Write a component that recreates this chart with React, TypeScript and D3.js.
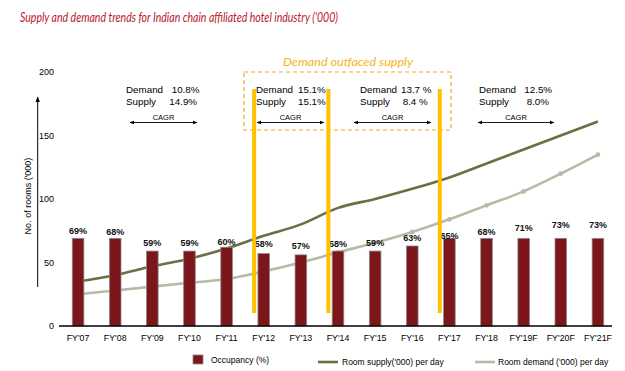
import React from "react";
import * as d3 from "d3";

// years on the x axis
const years = ["FY'07", "FY'08", "FY'09", "FY'10", "FY'11", "FY'12", "FY'13", "FY'14", "FY'15", "FY'16", "FY'17", "FY'18", "FY'19F", "FY'20F", "FY'21F"];
// occupancy labels (%) and the bar heights as drawn in the source
const occupancy = [69, 68, 59, 59, 60, 58, 57, 58, 59, 63, 65, 68, 71, 73, 73];
const barHeights = [69, 69, 59, 59, 62, 57, 56, 59, 59, 63, 69, 69, 69, 69, 69];
// room supply / demand ('000 per day)
const supply = [35, 40, 47, 53, 61, 71, 80, 93, 100, 108, 117, 128, 139, 150, 161];
const demand = [25, 28, 31, 34, 37, 43, 50, 58, 65.5, 74, 84, 95, 106, 120, 135];
const yTicks = [0, 50, 100, 150, 200];
// where the orange phase markers sit
const phaseStarts = ["FY'12", "FY'14", "FY'17"];

// CAGR text blocks
const cagrDemand = ["10.8%", "15.1%", "13.7 %", "12.5%"];
const cagrSupply = ["14.9%", "15.1%", "8.4 %", "8.0%"];

const W = 625;
const H = 371;

const font = "'Liberation Sans', Arial, sans-serif";

export default function App() {
  const x = d3.scalePoint<string>().domain(years).range([59.5, 616.5]).padding(0.5);
  const y = d3.scaleLinear().domain([0, 200]).range([326, 72]);
  const barW = 11.6;

  const line = d3
    .line<number>()
    .x((_, i) => x(years[i]) as number)
    .y((d) => y(d))
    .curve(d3.curveMonotoneX);

  // layout of the CAGR blocks: text left, value left (demand/supply), arrow start/end
  const blocks = [
    { tx: 126, dv: 171.7, sv: 169.3, a0: 130, a1: 197 },
    { tx: 256, dv: 298, sv: 298, a0: 257, a1: 324 },
    { tx: 360, dv: 401, sv: 402.7, a0: 354, a1: 431 },
    { tx: 479, dv: 524.3, sv: 526.7, a0: 478, a1: 554 },
  ];

  return (
    <svg width={W} height={H} style={{ position: "absolute", left: 0, top: 0, background: "#fff" }}>
      <defs>
        <marker id="ah" viewBox="0 0 10 10" refX="9" refY="5" markerWidth="5" markerHeight="5" orient="auto-start-reverse">
          <path d="M0,1 L10,5 L0,9 z" fill="#000" />
        </marker>
        <marker id="ahy" viewBox="0 0 10 10" refX="9" refY="5" markerWidth="6" markerHeight="6" orient="auto">
          <path d="M0,1 L10,5 L0,9 z" fill="#000" />
        </marker>
      </defs>

      {/* title */}
      <text x={20} y={22} fontFamily="Lato, sans-serif" fontStyle="italic" fontSize={12.5} fill="#b8192b" textLength={318} lengthAdjust="spacingAndGlyphs">
        Supply and demand trends for Indian chain affiliated hotel industry ('000)
      </text>

      {/* y axis ticks */}
      {yTicks.map((t) => (
        <text key={t} x={54} y={y(t)} dy="0.35em" textAnchor="end" fontFamily={font} fontSize={9} fill="#000">
          {t}
        </text>
      ))}
      {/* y axis arrow + title */}
      <line x1={37.7} y1={287} x2={37.7} y2={97} stroke="#000" strokeWidth={1} markerEnd="url(#ahy)" />
      <text transform="translate(31,196) rotate(-90)" textAnchor="middle" fontFamily={font} fontSize={9} fill="#000">
        No. of rooms ('000)
      </text>

      {/* lines */}
      <path d={line(supply) ?? ""} fill="none" stroke="#6b6f44" strokeWidth={2.6} />
      <path d={line(demand) ?? ""} fill="none" stroke="#b8baa6" strokeWidth={2.6} />
      {demand.map((d, i) => (
        <circle key={i} cx={x(years[i])} cy={y(d)} r={2.4} fill="#b8baa6" />
      ))}

      {/* bars */}
      {barHeights.map((v, i) => (
        <rect
          key={years[i]}
          x={(x(years[i]) as number) - barW / 2}
          y={y(v)}
          width={barW}
          height={y(0) - y(v)}
          fill="#7d161a"
          stroke="#8a8a8a"
          strokeWidth={0.8}
        />
      ))}
      {occupancy.map((v, i) => (
        <text key={years[i]} x={x(years[i])} y={y(v) - 8} dy="0.35em" textAnchor="middle" fontFamily={font} fontSize={9} fontWeight="bold" fill="#111">
          {v}%
        </text>
      ))}

      {/* x axis */}
      <line x1={59} x2={612} y1={326} y2={326} stroke="#000" strokeWidth={1.3} />
      {years.map((yr) => (
        <text key={yr} x={x(yr)} y={338} dy="0.35em" textAnchor="middle" fontFamily={font} fontSize={8.8} fill="#000">
          {yr}
        </text>
      ))}

      {/* demand outfaced supply box */}
      <rect x={244} y={72} width={207} height={58} fill="none" stroke="#f5a623" strokeWidth={1.2} strokeDasharray="4,3" />
      <text x={283} y={66} fontFamily="Lato, sans-serif" fontStyle="italic" fontSize={12} fill="#f5b316" textLength={130} lengthAdjust="spacingAndGlyphs">
        Demand outfaced supply
      </text>

      {/* orange phase lines */}
      {phaseStarts.map((p) => (
        <line key={p} x1={(x(p) as number) - 9.6} x2={(x(p) as number) - 9.6} y1={89} y2={313} stroke="#ffc000" strokeWidth={4} />
      ))}

      {/* CAGR annotations */}
      {blocks.map((b, i) => (
        <g key={i} fontFamily={font} fill="#000">
          <text x={b.tx} y={92.5} fontSize={9.8}>Demand</text>
          <text x={b.dv} y={92.5} fontSize={9.8}>{cagrDemand[i]}</text>
          <text x={b.tx} y={104.5} fontSize={9.8}>Supply</text>
          <text x={b.sv} y={104.5} fontSize={9.8}>{cagrSupply[i]}</text>
          <text x={(b.a0 + b.a1) / 2} y={120} fontSize={7.5} textAnchor="middle">CAGR</text>
          <line x1={b.a0} x2={b.a1} y1={122.5} y2={122.5} stroke="#000" strokeWidth={0.9} markerStart="url(#ah)" markerEnd="url(#ah)" />
        </g>
      ))}

      {/* legend */}
      <g fontFamily={font} fontSize={8.5} fill="#000">
        <rect x={193} y={355} width={10} height={9} fill="#7d161a" stroke="#8a8a8a" strokeWidth={0.8} />
        <text x={211} y={362} dy="0.1em">Occupancy (%)</text>
        <line x1={318} x2={338} y1={362} y2={362} stroke="#6b6f44" strokeWidth={2.6} />
        <text x={342} y={362} dy="0.35em">Room supply('000) per day</text>
        <line x1={475} x2={495} y1={362} y2={362} stroke="#b8baa6" strokeWidth={2.6} />
        <text x={498} y={362} dy="0.35em">Room demand ('000) per day</text>
      </g>
    </svg>
  );
}
